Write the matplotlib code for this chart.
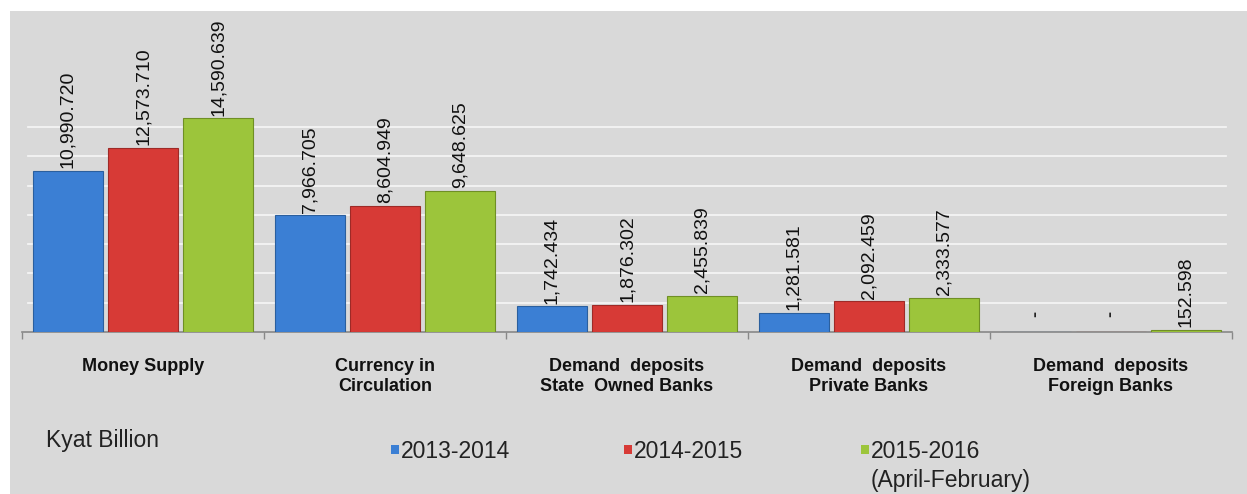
import numpy as np
import matplotlib
matplotlib.use("Agg")
import matplotlib.pyplot as plt
from matplotlib.patches import Rectangle

plt.rcParams['font.family'] = ['Liberation Sans', 'DejaVu Sans']

categories = ["Money Supply",
              "Currency in\nCirculation",
              "Demand  deposits\nState  Owned Banks",
              "Demand  deposits\nPrivate Banks",
              "Demand  deposits\nForeign Banks"]
series = ["2013-2014", "2014-2015", "2015-2016\n(April-February)"]
# Kyat billion; None = no data ("-")
v_1314 = [10990.720, 7966.705, 1742.434, 1281.581, None]
v_1415 = [12573.710, 8604.949, 1876.302, 2092.459, None]
v_1516 = [14590.639, 9648.625, 2455.839, 2333.577, 152.598]
colors = ["#3b7fd4", "#d73a36", "#9cc53b"]
edges = ["#2a5f9e", "#9e2a27", "#6f8f25"]

fig = plt.figure(figsize=(12.47, 4.94), dpi=100)
fig.patch.set_facecolor("white")
# grey panel behind everything
fig.patches.append(Rectangle((10/1247, 0), 1, 1 - 11/494, transform=fig.transFigure,
                             facecolor="#d9d9d9", edgecolor="none", zorder=-5))

ax = fig.add_axes((22/1247, (494-332)/494, 1210/1247, 322/494))
ax.set_facecolor("none")
ax.set_zorder(2)

x = np.arange(len(categories))
step = 0.31
width = 0.293
for i, vals in enumerate([v_1314, v_1415, v_1516]):
    h = [0 if v is None else v for v in vals]
    bars = ax.bar(x + (i-1)*step, h, width, color=colors[i], edgecolor=edges[i],
                  linewidth=0.8, zorder=3)
    for b, v in zip(bars, vals):
        if v is None:
            ax.annotate("-", (b.get_x() + b.get_width()/2, 0), xytext=(0, 11),
                        textcoords="offset points", rotation=90, ha="center",
                        va="bottom", fontsize=13, fontweight="bold", color="#222222")
        else:
            ax.annotate(f"{v:,.3f}", (b.get_x() + b.get_width()/2, v), xytext=(0, 2),
                        textcoords="offset points", rotation=90, ha="center",
                        va="bottom", fontsize=14, color="#111111", zorder=4)

ax.set_xlim(-0.5, len(categories) - 0.5)
ax.set_ylim(0, 22000)
for g in np.arange(2000, 14001, 2000):
    ax.axhline(g, xmin=0.005, xmax=0.995, color="white", lw=1.3, alpha=0.7, zorder=1)

for s in ["top", "right", "left"]:
    ax.spines[s].set_visible(False)
ax.spines["bottom"].set_color("#888888")
ax.spines["bottom"].set_linewidth(1.2)
ax.set_yticks([])
ax.set_xticks(np.arange(len(categories) + 1) - 0.5)
ax.set_xticklabels([])
ax.tick_params(axis="x", direction="out", length=5, color="#888888", width=1)

for xi, name in zip(x, categories):
    ax.text(xi, -1800, name, ha="center", va="top", fontsize=13, fontweight="bold",
            linespacing=1.2, color="#111111")

# unit note and legend
fig.text(46/1247, 1 - 440/494, "Kyat Billion", ha="left", va="center", fontsize=16.5,
         color="#222222")
leg_x = [391, 624, 861]
for lx, name, c in zip(leg_x, series, colors):
    fig.patches.append(Rectangle((lx/1247, 1 - 454/494), 8/1247, 9/494,
                                 transform=fig.transFigure, facecolor=c,
                                 edgecolor="none", zorder=2))
    fig.text((lx + 10)/1247, 1 - 440/494, name, ha="left", va="top",
             fontsize=16.5, color="#222222", linespacing=1.35)

fig.savefig("out.png", dpi=100, facecolor=fig.get_facecolor())
